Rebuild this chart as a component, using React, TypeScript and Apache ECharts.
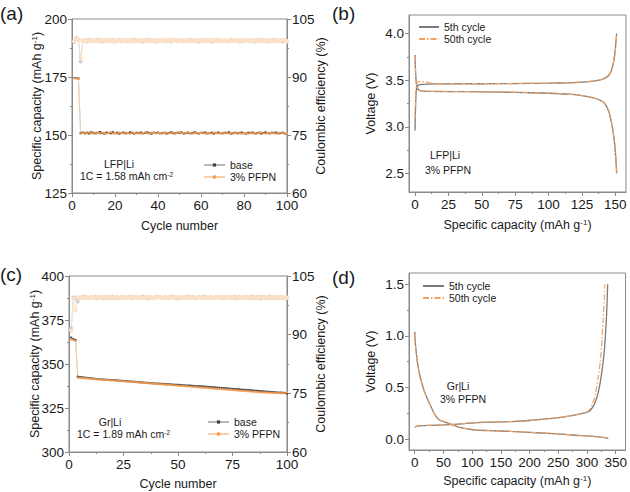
import React, { useEffect, useRef } from "react";
import * as echarts from "echarts";

const FONT = "'Liberation Sans', Arial, Helvetica, sans-serif";

// ---------- Panel (a): LFP|Li cycling ----------
const aCapBase = [174.6, 174.5, 174.4,
  150.8, 151.1, 150.7, 151.0, 150.6, 151.2, 150.9, 150.7, 151.0, 151.3,
  150.8, 150.6, 151.1, 150.9, 150.7, 151.2, 150.8, 151.0, 150.6, 150.9,
  151.1, 150.7, 150.8, 151.2, 150.9, 150.6, 151.0, 150.8, 151.1, 150.7,
  150.9, 151.2, 150.8, 150.6, 151.0, 150.9, 151.1, 150.7, 150.8, 151.0,
  150.6, 150.9, 151.2, 150.8, 150.7, 151.0, 150.9, 151.1, 150.6, 150.8,
  151.0, 150.7, 150.9, 151.2, 150.8, 150.6, 151.0, 150.9, 151.1, 150.7,
  150.8, 151.0, 150.6, 150.9, 151.1, 150.8, 150.7, 151.0, 150.9, 151.2,
  150.6, 150.8, 151.0, 150.7, 150.9, 151.1, 150.8, 150.6, 151.0, 150.9,
  151.1, 150.7, 150.8, 151.0, 150.6, 150.9, 151.2, 150.8, 150.7, 151.0,
  150.9, 151.1, 150.7, 150.8, 151.0, 150.6, 150.4];
const aCapPfpn = [174.5, 174.4, 174.2,
  150.6, 150.9, 151.0, 150.7, 151.1, 150.8, 150.6, 151.0, 150.9, 150.7,
  151.1, 150.8, 150.6, 150.9, 151.2, 150.7, 150.9, 150.6, 151.0, 150.8,
  150.7, 151.0, 150.9, 150.6, 151.1, 150.8, 150.7, 151.0, 150.6, 150.9,
  151.1, 150.8, 150.6, 151.0, 150.9, 150.7, 151.2, 150.8, 150.6, 150.9,
  151.0, 150.7, 150.8, 151.1, 150.6, 150.9, 151.2, 150.8, 150.7, 151.0,
  151.3, 150.9, 150.6, 150.8, 151.0, 150.7, 150.9, 151.1, 150.6, 150.8,
  150.9, 150.6, 151.0, 150.8, 150.7, 150.9, 150.6, 150.8, 151.0, 150.7,
  150.9, 150.6, 150.8, 151.0, 150.7, 150.6, 150.9, 150.8, 150.6, 151.0,
  150.7, 150.9, 150.6, 150.8, 151.1, 150.7, 150.6, 150.9, 150.8, 151.0,
  150.7, 150.6, 150.9, 151.0, 150.8, 150.6, 150.5];
const aCeBase = [99.1, 100.1, 99.7, 94.0,
  99.3, 99.5, 99.2, 99.6, 99.4, 99.3, 99.5, 99.6, 99.4, 99.2,
  99.5, 99.3, 99.6, 99.4, 99.5, 99.2, 99.4, 99.6, 99.3, 99.5,
  99.4, 99.2, 99.5, 99.3, 99.6, 99.4, 99.3, 99.5, 99.2, 99.4,
  99.6, 99.3, 99.5, 99.4, 99.2, 99.5, 99.3, 99.6, 99.4, 99.3,
  99.5, 99.2, 99.4, 99.6, 99.3, 99.5, 99.4, 99.2, 99.5, 99.3,
  99.6, 99.4, 99.3, 99.5, 99.2, 99.4, 99.6, 99.3, 99.5, 99.4,
  99.2, 99.5, 99.3, 99.6, 99.4, 99.3, 99.5, 99.2, 99.4, 99.6,
  99.3, 99.5, 99.4, 99.2, 99.5, 99.3, 99.6, 99.4, 99.3, 99.5,
  99.2, 99.4, 99.6, 99.3, 99.5, 99.4, 99.2, 99.5, 99.3, 99.6,
  99.4, 99.3, 99.5, 99.2, 99.4, 99.3];
const aCePfpn = [99.3, 99.9, 99.5, 95.0,
  99.4, 99.2, 99.5, 99.3, 99.6, 99.4, 99.5, 99.2, 99.4, 99.6,
  99.3, 99.5, 99.4, 99.6, 99.2, 99.5, 99.3, 99.4, 99.6, 99.3,
  99.5, 99.4, 99.3, 99.6, 99.2, 99.5, 99.4, 99.3, 99.6, 99.5,
  99.3, 99.4, 99.6, 99.2, 99.5, 99.3, 99.4, 99.6, 99.3, 99.5,
  99.4, 99.6, 99.3, 99.5, 99.2, 99.4, 99.6, 99.3, 99.4, 99.5,
  99.3, 99.5, 99.2, 99.4, 99.6, 99.3, 99.5, 99.4, 99.2, 99.5,
  99.6, 99.3, 99.4, 99.5, 99.2, 99.4, 99.6, 99.3, 99.5, 99.4,
  99.3, 99.6, 99.2, 99.5, 99.4, 99.3, 99.5, 99.6, 99.3, 99.4,
  99.5, 99.2, 99.4, 99.6, 99.3, 99.5, 99.4, 99.3, 99.6, 99.2,
  99.4, 99.5, 99.3, 99.6, 99.4, 99.2];

// ---------- Panel (c): Gr|Li cycling ----------
const cCapBase = [365.0, 364.2, 363.6,
  342.8, 342.6, 342.5, 342.3, 342.2, 342.0, 341.9, 341.8, 341.6, 341.5,
  341.4, 341.3, 341.2, 341.1, 341.0, 340.9, 340.9, 340.8, 340.7, 340.6,
  340.5, 340.4, 340.3, 340.2, 340.1, 340.0, 339.9, 339.8, 339.7, 339.6,
  339.5, 339.4, 339.3, 339.2, 339.1, 339.0, 338.9, 338.9, 338.8, 338.7,
  338.6, 338.5, 338.5, 338.4, 338.3, 338.2, 338.2, 338.1, 338.0, 337.9,
  337.8, 337.8, 337.7, 337.6, 337.5, 337.4, 337.4, 337.3, 337.2, 337.1,
  337.0, 336.9, 336.8, 336.7, 336.6, 336.5, 336.4, 336.3, 336.2, 336.1,
  336.0, 335.9, 335.8, 335.7, 335.6, 335.5, 335.4, 335.3, 335.2, 335.1,
  335.0, 334.9, 334.8, 334.7, 334.6, 334.5, 334.4, 334.3, 334.2, 334.1,
  334.0, 333.9, 333.8, 333.8, 333.7, 333.6, 333.3];
const cCapPfpn = [364.0, 363.6, 363.1,
  342.2, 342.1, 342.0, 341.9, 341.8, 341.7, 341.6, 341.5, 341.4, 341.3,
  341.2, 341.1, 341.0, 340.9, 340.8, 340.7, 340.7, 340.6, 340.5, 340.4,
  340.3, 340.2, 340.1, 340.0, 339.9, 339.8, 339.7, 339.6, 339.5, 339.4,
  339.3, 339.2, 339.1, 339.0, 338.9, 338.8, 338.7, 338.6, 338.5, 338.4,
  338.3, 338.2, 338.1, 338.0, 337.9, 337.8, 337.7, 337.6, 337.5, 337.4,
  337.3, 337.2, 337.1, 337.0, 336.9, 336.8, 336.7, 336.6, 336.5, 336.4,
  336.3, 336.2, 336.1, 336.0, 335.9, 335.8, 335.7, 335.6, 335.5, 335.4,
  335.3, 335.2, 335.1, 335.0, 334.9, 334.8, 334.7, 334.6, 334.5, 334.4,
  334.3, 334.2, 334.1, 334.0, 333.9, 333.9, 333.8, 333.7, 333.7, 333.6,
  333.6, 333.5, 333.5, 333.4, 333.4, 333.3, 333.9];
const cCeBase = [91.6, 99.5, 99.3, 98.5,
  99.4, 99.6, 99.7, 99.5, 99.3, 99.6, 99.5, 99.7, 99.4, 99.6,
  99.5, 99.3, 99.6, 99.4, 99.5, 99.7, 99.4, 99.6, 99.3, 99.5,
  99.6, 99.4, 99.5, 99.7, 99.3, 99.6, 99.5, 99.4, 99.6, 99.7,
  99.5, 99.3, 99.6, 99.5, 99.4, 99.7, 99.6, 99.5, 99.3, 99.6,
  99.4, 99.5, 99.7, 99.6, 99.4, 99.3, 99.5, 99.6, 99.4, 99.7,
  99.5, 99.4, 99.6, 99.3, 99.5, 99.6, 99.4, 99.7, 99.5, 99.3,
  99.6, 99.4, 99.5, 99.7, 99.4, 99.6, 99.3, 99.5, 99.6, 99.4,
  99.5, 99.7, 99.3, 99.6, 99.5, 99.4, 99.6, 99.5, 99.3, 99.7,
  99.4, 99.6, 99.5, 99.3, 99.6, 99.4, 99.5, 99.7, 99.4, 99.6,
  99.5, 99.3, 99.6, 99.4, 99.5, 99.4];
const cCePfpn = [91.0, 99.1, 96.2, 99.6,
  99.5, 99.7, 99.4, 99.6, 99.3, 99.5, 99.7, 99.4, 99.6, 99.5,
  99.3, 99.6, 99.4, 99.7, 99.5, 99.3, 99.6, 99.5, 99.4, 99.7,
  99.5, 99.3, 99.6, 99.4, 99.5, 99.7, 99.6, 99.3, 99.5, 99.4,
  99.6, 99.7, 99.4, 99.5, 99.3, 99.6, 99.5, 99.7, 99.4, 99.6,
  99.3, 99.5, 99.6, 99.4, 99.7, 99.5, 99.3, 99.6, 99.5, 99.4,
  99.7, 99.6, 99.3, 99.5, 99.4, 99.6, 99.7, 99.4, 99.5, 99.3,
  99.6, 99.5, 99.4, 99.7, 99.6, 99.3, 99.5, 99.4, 99.6, 99.5,
  99.7, 99.3, 99.6, 99.4, 99.5, 99.6, 99.3, 99.7, 99.5, 99.4,
  99.6, 99.3, 99.5, 99.7, 99.4, 99.6, 99.5, 99.3, 99.6, 99.4,
  99.7, 99.5, 99.4, 99.6, 99.3, 99.5];

// ---------- Panel (b): LFP|Li voltage profiles ----------
const bCharge5 = [[0, 2.96], [0.4, 3.2], [0.9, 3.38], [1.6, 3.43], [3, 3.45], [6, 3.455], [15, 3.46], [30, 3.462], [50, 3.462], [75, 3.464], [100, 3.468], [115, 3.473], [125, 3.48], [132, 3.488], [138, 3.5], [142, 3.52], [145, 3.55], [147, 3.6], [148.5, 3.68], [149.6, 3.78], [150.4, 3.9], [151, 4.0]];
const bDis5 = [[0, 3.77], [0.4, 3.6], [1, 3.47], [2, 3.41], [4, 3.385], [10, 3.38], [30, 3.378], [50, 3.375], [75, 3.37], [100, 3.36], [115, 3.35], [125, 3.335], [132, 3.315], [138, 3.29], [142, 3.25], [145, 3.17], [147, 3.05], [148.5, 2.93], [149.6, 2.8], [150.4, 2.65], [151, 2.5]];
const bCharge50 = [[0, 3.08], [0.4, 3.3], [1, 3.45], [2, 3.48], [5, 3.485], [10, 3.475], [15, 3.465], [30, 3.463], [50, 3.463], [75, 3.465], [100, 3.469], [115, 3.474], [125, 3.481], [132, 3.49], [138, 3.502], [142, 3.523], [145, 3.555], [147, 3.605], [148.6, 3.69], [149.7, 3.79], [150.5, 3.9], [151.2, 4.0]];
const bDis50 = [[0, 3.76], [0.4, 3.58], [1, 3.46], [2, 3.41], [4, 3.386], [10, 3.381], [30, 3.379], [50, 3.376], [75, 3.371], [100, 3.361], [115, 3.351], [125, 3.336], [132, 3.316], [138, 3.291], [142, 3.252], [145, 3.175], [147, 3.06], [148.6, 2.93], [149.7, 2.8], [150.5, 2.65], [151.2, 2.5]];

// ---------- Panel (d): Gr|Li voltage profiles ----------
const dDis5 = [[0, 1.04], [0.5, 0.97], [1.5, 0.9], [2.5, 0.85], [4, 0.77], [6, 0.7], [8, 0.64], [12, 0.55], [17, 0.46], [22, 0.39], [27, 0.33], [32, 0.27], [37, 0.22], [43, 0.185], [50, 0.17], [60, 0.15], [70, 0.128], [80, 0.11], [95, 0.095], [110, 0.087], [130, 0.082], [165, 0.074], [200, 0.065], [240, 0.052], [280, 0.037], [310, 0.027], [330, 0.015], [337, 0.006]];
const dDis50 = [[0, 1.02], [0.5, 0.96], [1.5, 0.89], [2.5, 0.84], [4, 0.76], [6, 0.69], [8, 0.63], [12, 0.545], [17, 0.455], [22, 0.385], [27, 0.325], [32, 0.268], [37, 0.22], [43, 0.186], [50, 0.171], [60, 0.151], [70, 0.129], [80, 0.111], [95, 0.096], [110, 0.088], [130, 0.083], [165, 0.075], [200, 0.066], [240, 0.053], [280, 0.038], [310, 0.028], [330, 0.016], [336, 0.008]];
const dCharge5 = [[0, 0.115], [5, 0.125], [15, 0.13], [30, 0.133], [50, 0.137], [70, 0.143], [90, 0.152], [110, 0.16], [140, 0.165], [170, 0.17], [200, 0.18], [230, 0.195], [260, 0.215], [285, 0.24], [300, 0.26], [306, 0.28], [312, 0.33], [318, 0.42], [323, 0.55], [327, 0.7], [330, 0.85], [332, 1.0], [334, 1.2], [336, 1.5]];
const dCharge50 = [[0, 0.12], [5, 0.127], [15, 0.131], [30, 0.134], [50, 0.138], [70, 0.144], [90, 0.153], [110, 0.161], [140, 0.166], [170, 0.171], [200, 0.181], [230, 0.196], [260, 0.216], [285, 0.242], [300, 0.265], [305, 0.29], [310, 0.35], [315, 0.45], [319, 0.58], [323, 0.75], [326, 0.95], [328, 1.15], [330, 1.35], [331, 1.5]];

// ---------- Tick values ----------
const bXTicks = [0, 25, 50, 75, 100, 125, 150];
const bXMinor = [12.5, 37.5, 62.5, 87.5, 112.5, 137.5];
const bYTicks = [2.5, 3.0, 3.5, 4.0];
const bYMinor = [2.75, 3.25, 3.75];
const dXTicks = [0, 50, 100, 150, 200, 250, 300, 350];
const dXMinor = [25, 75, 125, 175, 225, 275, 325];
const dYTicks = [0, 0.5, 1.0, 1.5];
const dYMinor = [0.25, 0.75, 1.25];

const AX = "#8a8a8a";
const TXT = "#1a1a1a";
const C_BASE_DARK = "#404040";
const C_BASE_LIGHT = "#b8b8b8";
const C_PFPN_DARK = "#f29a4e";
const C_PFPN_LIGHT = "#fad0ab";
const C_CE_BASE = "#d2d2d2";
const C_CE_PFPN = "#fde0c6";

const nameRich = {
  t: { fontSize: 12.5, fontFamily: FONT, color: TXT, lineHeight: 14 },
  s: { fontSize: 8, fontFamily: FONT, color: TXT, verticalAlign: "top", lineHeight: 9 },
};

function axis(extra: any) {
  return {
    type: "value",
    nameLocation: "middle",
    nameMoveOverlap: false,
    nameTextStyle: { fontSize: 12.5, fontFamily: FONT, color: TXT, rich: nameRich },
    axisLine: { show: true, onZero: false, lineStyle: { color: AX, width: 1 } },
    axisTick: { show: true, inside: false, length: 4, lineStyle: { color: AX, width: 1 } },
    minorTick: { show: true, splitNumber: 2, length: 2, lineStyle: { color: AX, width: 1 } },
    axisLabel: { color: TXT, fontSize: 13.5, fontFamily: FONT, margin: 5 },
    splitLine: { show: false },
    minorSplitLine: { show: false },
    ...extra,
  };
}

function minorAxis(extra: any) {
  return {
    type: "value",
    axisLine: { show: false, onZero: false },
    axisLabel: { show: false },
    splitLine: { show: false },
    ...extra,
  };
}

const pairs = (arr: number[]) => arr.map((v, i) => [i + 1, v]);

function capSeries(name: string, data: number[], xi: number, yi: number, dark: string, light: string) {
  return {
    type: "line", name, data: pairs(data), xAxisIndex: xi, yAxisIndex: yi,
    symbol: "rect", symbolSize: 2, showSymbol: true,
    lineStyle: { color: light, width: 0.8 },
    itemStyle: { color: dark },
    z: 5,
  };
}
function ceSeries(name: string, data: number[], xi: number, yi: number, col: string) {
  return {
    type: "line", name, data: pairs(data), xAxisIndex: xi, yAxisIndex: yi,
    symbol: "emptyCircle", symbolSize: 2.2, showSymbol: true,
    lineStyle: { color: col, width: 0.8 },
    itemStyle: { color: col, borderWidth: 0.6 },
    z: 3,
  };
}
function vSeries(name: string, data: number[][], xi: number, yi: number, dashed: boolean) {
  return {
    type: "line", name, data, xAxisIndex: xi, yAxisIndex: yi,
    showSymbol: false, symbol: "none", smooth: 0.3,
    lineStyle: dashed
      ? { color: "#f4a261", width: 1.2, type: [6, 2, 1.5, 2] }
      : { color: "#7a7a7a", width: 1.3 },
    itemStyle: { color: dashed ? "#f4a261" : "#7a7a7a" },
    z: dashed ? 6 : 5,
  };
}

function txt(text: string, x: number, y: number, size: number, align = "left", rich?: any) {
  return {
    type: "text", x, y, silent: true,
    style: {
      text, fill: TXT, fontSize: size, fontFamily: FONT,
      align, textAlign: align, verticalAlign: "middle", textVerticalAlign: "middle",
      ...(rich ? { rich } : {}),
    },
  };
}

const annRich = {
  t: { fontSize: 10.5, fontFamily: FONT, color: TXT, lineHeight: 11 },
  s: { fontSize: 6.5, fontFamily: FONT, color: TXT, verticalAlign: "top", lineHeight: 7 },
};

function legend(left: number, top: number, names: string[], iw: number, hideSymbol: boolean) {
  return {
    left, top, orient: "vertical", data: names, padding: 0,
    itemWidth: iw, itemHeight: hideSymbol ? 8 : 4, itemGap: 0,
    textStyle: { fontSize: 10.5, fontFamily: FONT, color: TXT, lineHeight: 12 },
    ...(hideSymbol ? { itemStyle: { opacity: 0 } } : {}),
    selectedMode: false,
  };
}

export default function App() {
  const ref = useRef<HTMLDivElement>(null);
  useEffect(() => {
    if (!ref.current) return;
    const chart = echarts.init(ref.current, undefined, { renderer: "svg" });
    const gridStyle = { show: true, borderColor: AX, borderWidth: 1, backgroundColor: "transparent", containLabel: false };
    const capName = "{t|Specific capacity (mAh g}{s|-1}{t|)}";
    const minorTickStyle = (vals: number[]) => ({ show: true, inside: false, length: 2, lineStyle: { color: AX, width: 1 }, customValues: vals });
    const option: any = {
      animation: false,
      backgroundColor: "#ffffff",
      grid: [
        { left: 72, top: 19, width: 215, height: 174, ...gridStyle },
        { left: 409, top: 15, width: 217, height: 177, ...gridStyle },
        { left: 69, top: 276, width: 218, height: 176, ...gridStyle },
        { left: 409, top: 273, width: 217, height: 177, ...gridStyle },
      ],
      xAxis: [
        axis({ gridIndex: 0, min: 0, max: 100, interval: 20, name: "Cycle number", nameGap: 26 }),
        axis({
          gridIndex: 1, min: -4.5, max: 158, name: capName, nameGap: 26, minorTick: { show: false },
          axisLabel: { color: TXT, fontSize: 13.5, fontFamily: FONT, margin: 5, customValues: bXTicks },
          axisTick: { show: true, length: 4, lineStyle: { color: AX }, customValues: bXTicks },
        }),
        axis({ gridIndex: 2, min: 0, max: 100, interval: 25, name: "Cycle number", nameGap: 25 }),
        axis({
          gridIndex: 3, min: -10, max: 367, name: capName, nameGap: 24, minorTick: { show: false },
          axisLabel: { color: TXT, fontSize: 13.5, fontFamily: FONT, margin: 5, customValues: dXTicks },
          axisTick: { show: true, length: 4, lineStyle: { color: AX }, customValues: dXTicks },
        }),
        minorAxis({ gridIndex: 1, position: "bottom", min: -4.5, max: 158, axisTick: minorTickStyle(bXMinor), axisLabel: { show: false, customValues: bXMinor } }),
        minorAxis({ gridIndex: 3, position: "bottom", min: -10, max: 367, axisTick: minorTickStyle(dXMinor), axisLabel: { show: false, customValues: dXMinor } }),
      ],
      yAxis: [
        axis({ gridIndex: 0, position: "left", min: 125, max: 200, interval: 25, name: capName, nameGap: 28 }),
        axis({ gridIndex: 0, position: "right", min: 60, max: 105, interval: 15, name: "Coulombic efficiency (%)", nameGap: 27, nameRotate: 90 }),
        axis({
          gridIndex: 1, position: "left", min: 2.3, max: 4.2, name: "Voltage (V)", nameGap: 32, minorTick: { show: false },
          axisLabel: { color: TXT, fontSize: 13.5, fontFamily: FONT, margin: 5, customValues: bYTicks, formatter: (v: number) => v.toFixed(1) },
          axisTick: { show: true, length: 4, lineStyle: { color: AX }, customValues: bYTicks },
        }),
        axis({ gridIndex: 2, position: "left", min: 300, max: 400, interval: 25, name: capName, nameGap: 27 }),
        axis({ gridIndex: 2, position: "right", min: 60, max: 105, interval: 15, name: "Coulombic efficiency (%)", nameGap: 27, nameRotate: 90 }),
        axis({
          gridIndex: 3, position: "left", min: -0.106, max: 1.61, name: "Voltage (V)", nameGap: 32, minorTick: { show: false },
          axisLabel: { color: TXT, fontSize: 13.5, fontFamily: FONT, margin: 5, customValues: dYTicks, formatter: (v: number) => v.toFixed(1) },
          axisTick: { show: true, length: 4, lineStyle: { color: AX }, customValues: dYTicks },
        }),
        minorAxis({ gridIndex: 1, position: "left", min: 2.3, max: 4.2, axisTick: minorTickStyle(bYMinor), axisLabel: { show: false, customValues: bYMinor } }),
        minorAxis({ gridIndex: 3, position: "left", min: -0.106, max: 1.61, axisTick: minorTickStyle(dYMinor), axisLabel: { show: false, customValues: dYMinor } }),
      ],
      legend: [
        legend(203, 159, ["base", "3% PFPN"], 21, false),
        legend(418, 21, ["5th cycle", "50th cycle"], 20, true),
        legend(207, 416, ["base", "3% PFPN"], 21, false),
        legend(422, 280, ["5th cycle", "50th cycle"], 21, true),
      ],
      series: [
        ceSeries("ce base a", aCeBase, 0, 1, C_CE_BASE),
        ceSeries("ce pfpn a", aCePfpn, 0, 1, C_CE_PFPN),
        capSeries("base", aCapBase, 0, 0, C_BASE_DARK, C_BASE_LIGHT),
        capSeries("3% PFPN", aCapPfpn, 0, 0, C_PFPN_DARK, C_PFPN_LIGHT),
        vSeries("5th cycle", bCharge5, 1, 2, false),
        vSeries("5th cycle", bDis5, 1, 2, false),
        vSeries("50th cycle", bCharge50, 1, 2, true),
        vSeries("50th cycle", bDis50, 1, 2, true),
        ceSeries("ce base c", cCeBase, 2, 4, C_CE_BASE),
        ceSeries("ce pfpn c", cCePfpn, 2, 4, C_CE_PFPN),
        capSeries("base", cCapBase, 2, 3, C_BASE_DARK, C_BASE_LIGHT),
        capSeries("3% PFPN", cCapPfpn, 2, 3, C_PFPN_DARK, C_PFPN_LIGHT),
        vSeries("5th cycle", dDis5, 3, 5, false),
        vSeries("5th cycle", dCharge5, 3, 5, false),
        vSeries("50th cycle", dDis50, 3, 5, true),
        vSeries("50th cycle", dCharge50, 3, 5, true),
      ],
      graphic: [
        txt("(a)", 0, 13, 19),
        txt("(b)", 332, 13, 19),
        txt("(c)", 0, 274, 19),
        txt("(d)", 332, 277, 19),
        txt("LFP|Li", 119, 164, 10.5, "center"),
        txt("{t|1C = 1.58 mAh cm}{s|-2}", 80, 176, 10.5, "left", annRich),
        txt("Gr|Li", 110, 422, 10.5, "center"),
        txt("{t|1C = 1.89 mAh cm}{s|-2}", 77, 434, 10.5, "left", annRich),
        txt("LFP|Li", 445, 155, 10.5, "center"),
        txt("3% PFPN", 448, 170, 10.5, "center"),
        txt("Gr|Li", 458, 386, 10.5, "center"),
        txt("3% PFPN", 463, 399, 10.5, "center"),
      ],
    };
    chart.setOption(option);
    return () => chart.dispose();
  }, []);
  return <div ref={ref} style={{ position: "absolute", left: 0, top: 0, width: 630, height: 492 }} />;
}
